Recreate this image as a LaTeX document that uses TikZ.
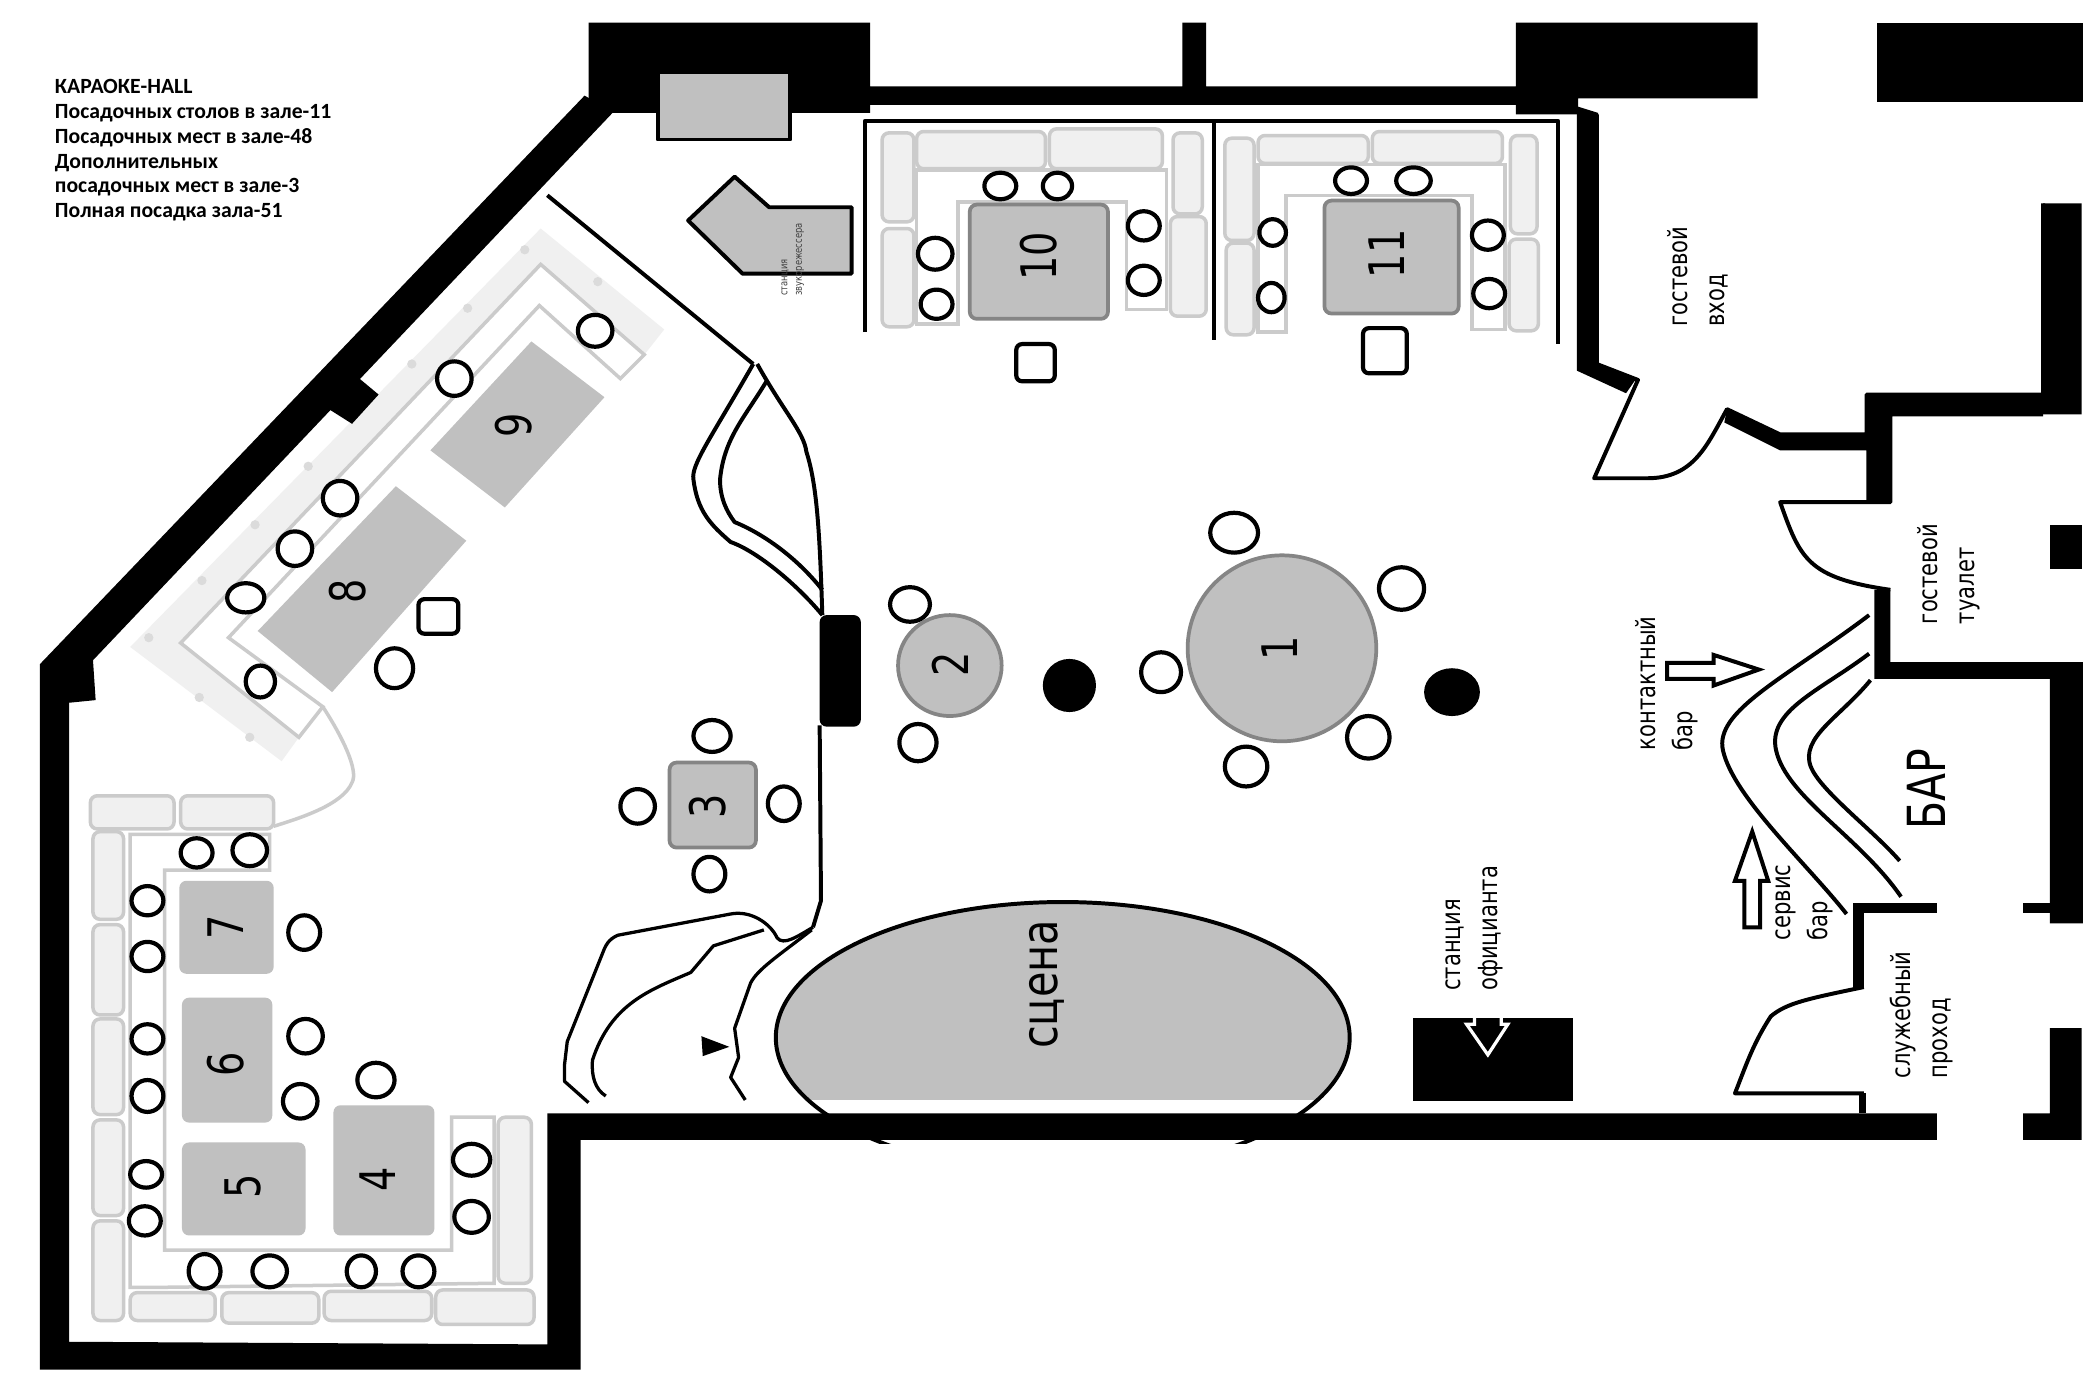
\documentclass[tikz,border=0pt]{standalone}
\usepackage{fontspec}
\setmainfont{DejaVu Sans}
\newfontfamily\titlefont{Carlito}
\usetikzlibrary{shapes.geometric}
\definecolor{deskgray}{HTML}{C0C0C0}
\definecolor{rimgray}{HTML}{858585}
\definecolor{sofaline}{HTML}{CBCBCB}
\definecolor{sofafill}{HTML}{F0F0F0}
\tikzstyle{wall} = [fill=black]
\tikzstyle{edge} = [draw, line width=1.7pt, line join=round]
\tikzstyle{chair} = [draw, fill=white, line width=1.8pt]
\tikzstyle{stool} = [draw, fill=white, line width=1.8pt, rounded corners=2.5pt]
\tikzstyle{desk} = [fill=deskgray, rounded corners=3pt]
\tikzstyle{rimdesk} = [fill=deskgray, draw=rimgray, line width=1.6pt, rounded corners=3pt]
\tikzstyle{sofa} = [draw=sofaline, fill=sofafill, line width=1.5pt, rounded corners=3pt]
\tikzstyle{seatrow} = [draw=sofaline, fill=white, line width=1.5pt]
\tikzstyle{num} = [rotate=90, xscale=.78, inner sep=0, font=\fontsize{21}{21}\selectfont]
\tikzstyle{lbl} = [rotate=90, xscale=.8, inner sep=0, anchor=north west, align=left,
    font=\fontsize{11.3}{15.9}\selectfont]
\tikzstyle{arrowbox} = [draw, fill=white, line width=1.7pt, line join=miter]
\begin{document}
\begin{tikzpicture}[x=0.02cm, y=-0.02cm]
    \useasboundingbox (0,0) rectangle (1568,1038.7);
    \fill[white] (0,0) rectangle (1568,1038.7);
    % floor under the diagonal sofa
    \fill[sofafill] (407,172) -- (500,248) -- (485,267) -- (407,199) -- (136,484) -- (225,555) -- (212,573) -- (98,487) -- cycle;
    \foreach \x/\y in {395/188, 450/212, 352/232, 310/274, 232/351, 192/395, 152/437, 112/480, 150/525, 188/555}
        \fill[sofaline!70] (\x,\y) circle [radius=3.5];
    % walls
    \fill[wall] (443,17) -- (655,17) -- (655,65) -- (890,65) -- (890,17) -- (908,17) -- (908,65) -- (1141,65) -- (1141,17) -- (1323,17) -- (1323,74) -- (1188,74) -- (1188,86) -- (1141,86) -- (1141,79) -- (655,79) -- (655,85) -- (462,85) -- (443,85) -- cycle;
    \fill[wall] (440,72) -- (462,84) -- (70,497) -- (72,527) -- (52,529) -- (52,1010) -- (412,1012) -- (412,838) -- (1458,838) -- (1458,858) -- (437,858) -- (437,1031) -- (30,1031) -- (30,500) -- cycle;
    \fill[wall] (255,272) -- (285,297) -- (265,319) -- (235,300) -- cycle;
    \fill[wall] (1413,17) rectangle (1568,77);
    \fill[wall] (1187,80) -- (1203,85) -- (1203,274) -- (1231,286) -- (1224,296) -- (1187,279) -- cycle;
    \fill[wall] (1300,308) -- (1340,327) -- (1405,327) -- (1405,297) -- (1538,297) -- (1538,153) -- (1567,153) -- (1567,312) -- (1423,312) -- (1423,378) -- (1405,378) -- (1405,339) -- (1340,339) -- (1298,318) -- cycle;
    \fill[wall] (1411,444) -- (1423,444) -- (1423,500) -- (1568,500) -- (1568,695) -- (1543,695) -- (1543,511) -- (1411,511) -- cycle;
    \fill[wall] (1543,395) rectangle (1567,428);
    \fill[wall] (1395,680) rectangle (1458,687);
    \fill[wall] (1523,680) rectangle (1543,687);
    \fill[wall] (1395,680) rectangle (1403,744);
    \fill[wall] (1399,823) rectangle (1405,838);
    \fill[wall] (1523,838) -- (1543,838) -- (1543,774) -- (1567,774) -- (1567,858) -- (1523,858) -- cycle;
    % sofas
    \foreach \xa/\ya/\xb/\yb in {664/100/688/167, 664/172/688/246, 690/99/787/127, 790/97/875/127, 883/100/905/161, 881/163/908/238,
        922/104/944/181, 923/183/944/252, 947/102/1030/123, 1033/99/1131/123, 1137/102/1157/176, 1136/180/1158/249,
        68/599/131/624, 136/599/206/624, 70/626/93/692, 70/696/93/764, 70/767/93/839, 70/843/93/915, 70/919/93/994,
        98/973/162/994, 167/973/240/996, 244/972/325/994, 328/971/402/997, 375/841/400/966}
        \draw[sofa] (\xa,\ya) rectangle (\xb,\yb);
    \draw[seatrow] (690,128) -- (878,128) -- (878,233) -- (848,233) -- (848,152) -- (721,152) -- (721,244) -- (690,244) -- cycle;
    \draw[seatrow] (947,124) -- (1133,124) -- (1133,248) -- (1108,248) -- (1108,147) -- (968,147) -- (968,250) -- (947,250) -- cycle;
    \draw[seatrow] (98,628) -- (203,628) -- (203,655) -- (124,655) -- (124,941) -- (340,941) -- (340,841) -- (372,841) -- (372,966) -- (124,969) -- (98,969) -- cycle;
    \draw[seatrow] (407,199) -- (485,267) -- (467,285) -- (406,230) -- (172,480) -- (243,532) -- (225,555) -- (136,484) -- cycle;
    \draw[sofaline, line width=1.5pt] (243,532) .. controls (258,555) and (270,580) .. (265,589) .. controls (258,606) and (225,616) .. (206,622);
    % sound desk and station
    \fill[deskgray] (495,56) rectangle (595,106);
    \draw[edge] (495,56) -- (495,105) -- (595,105) -- (595,56);
    \draw[edge, fill=deskgray] (553,133) -- (579,156) -- (641,156) -- (641,206) -- (559,206) -- (518,166) -- cycle;
    % partitions
    \draw[edge] (651,250) -- (651,91) -- (1173,91) -- (1173,259);
    \draw[edge] (914,90) -- (914,256);
    \draw[edge] (412,147) -- (567,274);
    \draw[edge] (567,274) .. controls (535,330) and (520,350) .. (522,361) .. controls (525,385) and (535,395) .. (550,408) .. controls (570,415) and (600,440) .. (619,463);
    \draw[edge] (577,287) .. controls (560,315) and (545,330) .. (542,361) .. controls (542,375) and (547,385) .. (553,393) .. controls (575,402) and (600,420) .. (619,444);
    \draw[edge] (570,274) .. controls (590,310) and (605,325) .. (607,340) .. controls (615,365) and (617,400) .. (619,463);
    \fill[black, rounded corners=3pt] (617,463) rectangle (648,547);
    \draw[edge] (617,546) -- (618,678) -- (612,698);
    \draw[edge, line width=1.4pt] (612,698) .. controls (600,705) and (590,712) .. (585,706) .. controls (580,695) and (565,685) .. (550,688) -- (465,704) .. controls (458,707) and (456,712) .. (455,714) -- (427,784) -- (425,801) -- (425,814) -- (443,830);
    \draw[edge, line width=1.4pt] (575,700) -- (537,712) -- (520,732) .. controls (490,745) and (460,755) .. (446,798) .. controls (445,810) and (448,820) .. (456,825);
    \draw[edge, line width=1.4pt] (611,700) .. controls (585,720) and (570,730) .. (565,740) -- (553,774) -- (556,796) -- (550,811) -- (561,828);
    \fill[black] (528,780) -- (549,788) -- (529,795) -- cycle;
    % stage
    \begin{scope}
        \clip (500,600) rectangle (1100,828);
        \fill[deskgray] (800,781) ellipse [x radius=216, y radius=102];
    \end{scope}
    \begin{scope}
        \clip (500,600) rectangle (1100,861);
        \draw[edge] (800,781) ellipse [x radius=216, y radius=102];
    \end{scope}
    \node[num, xscale=1.06, font=\fontsize{21.5}{21.5}\selectfont] (stage) at (788,741) {сцена};
    % tables
    \fill[desk] (251,832) rectangle (327,930);
    \fill[desk] (137,860) rectangle (230,930);
    \fill[desk] (137,751) rectangle (205,845);
    \fill[desk] (135,663) rectangle (206,733);
    \fill[deskgray] (298,366) -- (351,407) -- (250,521) -- (194,475) -- cycle;
    \fill[deskgray] (400,257) -- (455,299) -- (380,382) -- (324,339) -- cycle;
    \draw[rimdesk] (730,154) rectangle (834,240);
    \draw[rimdesk] (997,151) rectangle (1098,236);
    \draw[rimdesk] (504,574) rectangle (569,638);
    \draw[rimdesk] (715,501) ellipse [x radius=39, y radius=38];
    \draw[rimdesk] (965,488) ellipse [x radius=71, y radius=70];
    \node[num] (t1) at (963,488) {1};
    \node[num] (t2) at (715,500) {2};
    \node[num] (t3) at (533,607) {3};
    \node[num] (t4) at (284,888) {4};
    \node[num] (t5) at (183,893) {5};
    \node[num] (t6) at (170,801) {6};
    \node[num] (t7) at (170,698) {7};
    \node[num] (t8) at (262,445) {8};
    \node[num] (t9) at (387,320) {9};
    \node[num] (t10) at (782,193) {10};
    \node[num] (t11) at (1044,191) {11};
    % chairs
    \foreach \x/\y/\rx/\ry in {929/401/18/15, 1055/443/17/16, 874/506/15/15, 1030/555/16/16, 938/577/16/15,
        685/455/15/13, 691/559/14/14, 536/554/14/12, 480/607/13/13, 590/605/12/13, 534/658/12/13,
        753/140/12/10, 796/140/11/10, 704/191/13/12, 705/229/12/11, 861/170/12/11, 861/211/12/11,
        1017/136/12/10, 1064/136/13/10, 958/175/10/10, 957/224/10/11, 1120/177/12/11, 1121/221/12/11,
        448/249/13/12, 342/285/13/13, 256/375/13/13, 222/413/13/13, 185/450/14/11, 297/503/14/15, 196/513/11/12,
        148/642/12/11, 188/640/13/12, 111/678/12/11, 111/720/12/11, 229/702/12/13,
        111/782/12/11, 111/825/12/12, 230/780/13/13, 226/829/13/13, 283/813/14/13,
        110/884/12/10, 109/919/12/11, 355/873/14/12, 355/916/13/12,
        154/957/12/13, 203/957/13/12, 272/957/11/12, 315/957/12/12}
        \draw[chair] (\x,\y) ellipse [x radius=\rx, y radius=\ry];
    \draw[stool] (765,259) rectangle (794,287);
    \draw[stool] (1026,247) rectangle (1059,281);
    \draw[stool] (315,451) rectangle (345,477);
    % columns
    \fill[black] (805,516) ellipse [x radius=20, y radius=20];
    \fill[black] (1093,521) ellipse [x radius=21, y radius=18];
    % entrance, doors
    \draw[edge] (1202,86) -- (1202,274) -- (1233,286) -- (1200,360) -- (1240,360) .. controls (1275,360) and (1285,335) .. (1300,308) -- (1340,327) -- (1405,327) -- (1405,297) -- (1538,297) -- (1538,153);
    \draw[edge] (1538,312) -- (1423,312) -- (1423,378) -- (1340,378) .. controls (1355,420) and (1360,435) .. (1423,444);
    \draw[edge] (1423,500) -- (1568,500);
    \draw[edge] (1403,743) .. controls (1360,752) and (1345,755) .. (1333,765) .. controls (1320,785) and (1315,800) .. (1306,823) -- (1403,823);
    % bar
    \draw[edge] (1407,463) .. controls (1345,510) and (1290,535) .. (1297,565) .. controls (1305,600) and (1360,650) .. (1390,688);
    \draw[edge] (1407,492) .. controls (1370,520) and (1330,535) .. (1337,565) .. controls (1345,600) and (1400,630) .. (1431,675);
    \draw[edge] (1408,512) .. controls (1385,540) and (1355,555) .. (1363,577) .. controls (1370,595) and (1410,625) .. (1430,648);
    % arrows
    \draw[arrowbox] (1255,499) -- (1290,499) -- (1290,493) -- (1324,504) -- (1290,516) -- (1290,511) -- (1255,511) -- cycle;
    \draw[arrowbox] (1313,698) -- (1313,663) -- (1306,663) -- (1319,626) -- (1331,663) -- (1325,663) -- (1325,698) -- cycle;
    \fill[black] (1064,766) rectangle (1184,829);
    \draw[white, line width=1.4pt, line join=miter] (1110,766) -- (1110,771) -- (1104,771) -- (1120,794) -- (1135,771) -- (1130,771) -- (1130,766);
    % texts
    \node[anchor=north west, align=left, inner sep=0, font=\titlefont\bfseries\fontsize{9.3}{10.7}\selectfont] (info) at (41,59)
        {КАРАОКЕ-HALL\\Посадочных столов в зале-11\\Посадочных мест в зале-48\\Дополнительных\\посадочных мест в зале-3\\Полная посадка зала-51};
    \node[lbl] (entry) at (1255,246) {гостевой\\вход};
    \node[lbl] (toilet) at (1443,470) {гостевой\\туалет};
    \node[lbl] (contactbar) at (1231,565) {контактный\\бар};
    \node[lbl] (servicebar) at (1336,708) {сервис\\бар};
    \node[lbl] (waiter) at (1088,746) {станция\\официанта};
    \node[lbl] (pass) at (1422,812) {служебный\\проход};
    \node[lbl, text=black!75, font=\fontsize{4.5}{6.2}\selectfont] (sound) at (588,223) {станция\\звукорежессера};
    \node[rotate=90, xscale=.78, inner sep=0, font=\fontsize{22.5}{22.5}\selectfont] (bar) at (1450,594) {БАР};
\end{tikzpicture}
\end{document}
